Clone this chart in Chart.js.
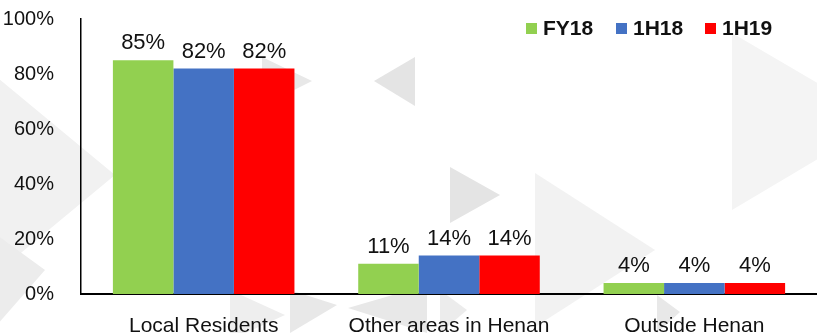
<!DOCTYPE html>
<html lang="en">
<head>
  <meta charset="UTF-8" />
  <title>Customer origin</title>
  <style>
    html, body {
      margin: 0;
      padding: 0;
      background: #fff;
      overflow: hidden;
    }
    canvas {
      display: block;
    }
  </style>
  <script src="https://cdn.jsdelivr.net/npm/chart.js"></script>
</head>
<body>
  <canvas id="originChart" width="817" height="333"></canvas>

  <script>
    // Data
    const categories = ["Local Residents", "Other areas in Henan", "Outside Henan"];
    const seriesNames = ["FY18", "1H18", "1H19"];
    const fy18 = [85, 11, 4];
    const h118 = [82, 14, 4];
    const h119 = [82, 14, 4];
    const yTicks = [0, 20, 40, 60, 80, 100];

    const colors = ["#92d050", "#4472c4", "#ff0000"];
    const FONT = "'Liberation Sans', Arial, sans-serif";

    // faint play-button shapes behind the plot
    const backdrop = {
      id: "backdrop",
      beforeDraw(chart) {
        const ctx = chart.ctx;
        ctx.save();
        ctx.fillStyle = "#fff";
        ctx.fillRect(0, 0, chart.width, chart.height);
        const tri = (pts, color) => {
          ctx.fillStyle = color;
          ctx.beginPath();
          ctx.moveTo(pts[0][0], pts[0][1]);
          ctx.lineTo(pts[1][0], pts[1][1]);
          ctx.lineTo(pts[2][0], pts[2][1]);
          ctx.closePath();
          ctx.fill();
        };
        tri([[-60, 30], [115, 175], [-60, 320]], "#f1f1f1");
        tri([[-10, 230], [45, 270], [-10, 333]], "#ececec");
        tri([[262, 57], [312, 81], [262, 106]], "#e8e8e8");
        tri([[415, 57], [374, 81], [415, 106]], "#e4e4e4");
        tri([[450, 167], [500, 195], [450, 223]], "#e4e4e4");
        tri([[535, 173], [655, 250], [535, 327]], "#f2f2f2");
        tri([[732, 33], [882, 121], [732, 210]], "#f4f4f4");
        tri([[230, 290], [285, 315], [230, 340]], "#eeeeee");
        tri([[290, 290], [337, 305], [290, 333]], "#e8e8e8");
        tri([[427, 285], [348, 308], [427, 333]], "#e8e8e8");
        tri([[440, 290], [467, 310], [440, 333]], "#ececec");
        tri([[657, 295], [680, 312], [657, 333]], "#e8e8e8");
        ctx.restore();
      }
    };

    // value labels above each bar
    const barLabels = {
      id: "barLabels",
      afterDatasetsDraw(chart) {
        const ctx = chart.ctx;
        ctx.save();
        ctx.font = "22px " + FONT;
        ctx.fillStyle = "#111";
        ctx.textAlign = "center";
        ctx.textBaseline = "bottom";
        chart.data.datasets.forEach((ds, i) => {
          chart.getDatasetMeta(i).data.forEach((bar, j) => {
            ctx.fillText(ds.data[j] + "%", bar.x, bar.y - 6);
          });
        });
        ctx.restore();
      }
    };

    // legend in the top right corner
    const cornerLegend = {
      id: "cornerLegend",
      afterDraw(chart) {
        const ctx = chart.ctx;
        ctx.save();
        ctx.font = "bold 21px " + FONT;
        ctx.textBaseline = "middle";
        ctx.textAlign = "left";
        const xs = [526, 616, 705];
        seriesNames.forEach((name, i) => {
          ctx.fillStyle = colors[i];
          ctx.fillRect(xs[i], 23, 11, 11);
          ctx.fillStyle = "#111";
          ctx.fillText(name, xs[i] + 17, 29);
        });
        ctx.restore();
      }
    };

    new Chart(document.getElementById("originChart"), {
      type: "bar",
      data: {
        labels: categories,
        datasets: [fy18, h118, h119].map((values, i) => ({
          label: seriesNames[i],
          data: values,
          backgroundColor: colors[i],
          borderWidth: 0,
          categoryPercentage: 0.74,
          barPercentage: 1.0
        }))
      },
      options: {
        responsive: false,
        animation: false,
        devicePixelRatio: 1,
        layout: { padding: { top: 19, left: 0, right: 0, bottom: 0 } },
        plugins: {
          legend: { display: false },
          tooltip: { enabled: false }
        },
        scales: {
          x: {
            grid: { display: false },
            border: { display: true, color: "#000", width: 2 },
            ticks: {
              color: "#111",
              padding: 12,
              font: { family: FONT, size: 21 }
            },
            afterFit(scale) { scale.height = 39; }
          },
          y: {
            min: 0,
            max: 100,
            afterBuildTicks(scale) {
              scale.ticks = yTicks.map(v => ({ value: v }));
            },
            grid: { display: false },
            border: { display: true, color: "#000", width: 1.5 },
            ticks: {
              color: "#111",
              padding: 19,
              font: { family: FONT, size: 20 },
              callback: v => v + "%"
            },
            afterFit(scale) {
              scale.width = 81;
              scale.paddingTop = 0;
              scale.paddingBottom = 0;
            }
          }
        }
      },
      plugins: [backdrop, barLabels, cornerLegend]
    });
  </script>
</body>
</html>
